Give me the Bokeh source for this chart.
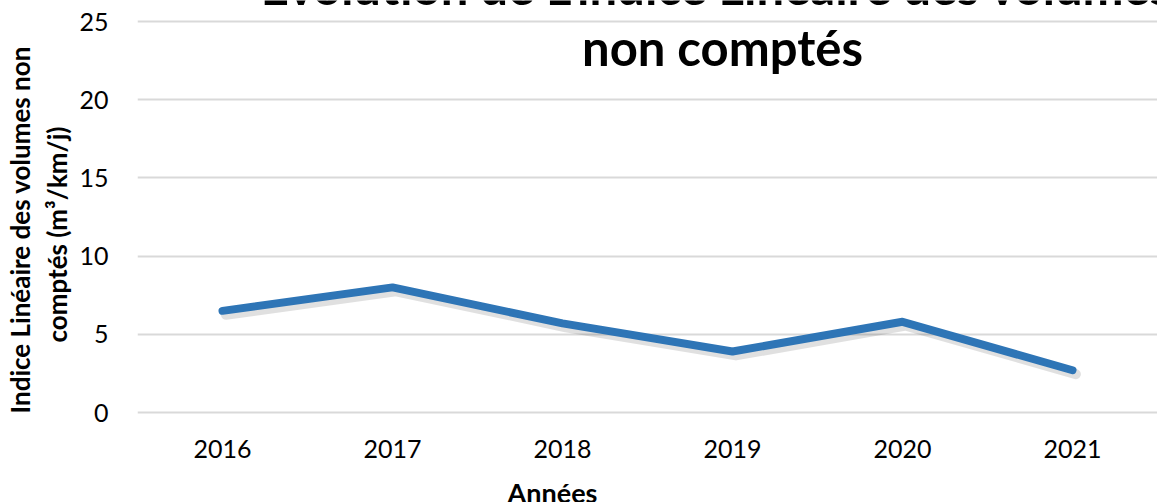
from bokeh.plotting import figure
from bokeh.models import ColumnDataSource, Label, FixedTicker, Title
from bokeh.transform import dodge
from bokeh.embed import file_html
from bokeh.resources import INLINE

years = ["2016", "2017", "2018", "2019", "2020", "2021"]
values = [6.5, 8.0, 5.7, 3.9, 5.8, 2.7]
y_ticks = [0, 5, 10, 15, 20, 25]
title_lines = ["Évolution de L'indice Linéaire  des volumes", "non comptés"]
y_title_lines = ["Indice Linéaire des volumes non", "comptés (m³/km/j)"]
x_title = "Années"

FONT = "Lato"
# value axis: 0..25 spans 391 px; the frame covers the full height (21 px above, 90 px below)
PX_PER_UNIT = 391 / 25
Y_START = -90 / PX_PER_UNIT
Y_END = 25 + 21 / PX_PER_UNIT

source = ColumnDataSource(data=dict(x=years, y=values))

p = figure(x_range=years, y_range=(Y_START, Y_END), width=1157, height=502,
           frame_width=1020, frame_height=502,
           min_border_left=137, min_border_right=0, min_border_top=0, min_border_bottom=0,
           output_backend="svg", toolbar_location=None)
p.outline_line_color = None
p.background_fill_color = "white"
p.border_fill_color = "white"

p.xgrid.grid_line_color = None
p.ygrid.grid_line_color = "#d9d9d9"
p.ygrid.grid_line_width = 2
p.yaxis.ticker = FixedTicker(ticks=y_ticks)
p.xaxis.fixed_location = 0

for ax in (p.xaxis[0], p.yaxis[0]):
    ax.axis_line_color = None
    ax.major_tick_line_color = None
    ax.minor_tick_line_color = None
    ax.major_tick_out = 0
    ax.major_tick_in = 0
    ax.major_label_text_font = FONT
    ax.major_label_text_font_size = "25px"
    ax.major_label_text_color = "#000000"
p.yaxis.major_label_standoff = 29
p.xaxis.major_label_standoff = 27

# shadow
p.line(x=dodge("x", 0.02, range=p.x_range), y=dodge("y", -0.25), source=source,
       line_color="#000000", line_alpha=0.12, line_width=10,
       line_cap="round", line_join="round")
p.line(x="x", y="y", source=source, line_color="#2E75B6", line_width=8,
       line_cap="round", line_join="round")

# title (two lines, first one partly cropped like in the reference)
p.add_layout(Label(x=585, y=517, x_units="screen", y_units="screen", text=title_lines[0],
                   text_font=FONT, text_font_style="bold", text_font_size="49px",
                   text_align="center", text_baseline="alphabetic", text_color="#000000"))
p.add_layout(Label(x=585, y=456, x_units="screen", y_units="screen", text=title_lines[1],
                   text_font=FONT, text_font_style="bold", text_font_size="49px",
                   text_align="center", text_baseline="alphabetic", text_color="#000000"))
# x title
p.add_layout(Label(x=552 - 137, y=10, x_units="screen", y_units="screen", text=x_title,
                   text_font=FONT, text_font_style="bold", text_font_size="27px",
                   text_align="center", text_baseline="alphabetic", text_color="#000000"))

# y title (two lines, nearest to the frame first)
p.add_layout(Title(text=y_title_lines[1], align="left", offset=160, text_font=FONT,
                   text_font_style="bold", text_font_size="26px", text_color="#000000",
                   standoff=7), "left")
p.add_layout(Title(text=y_title_lines[0], align="left", offset=89, text_font=FONT,
                   text_font_style="bold", text_font_size="26px", text_color="#000000",
                   standoff=0), "left")

open("out.html", "w").write(file_html(p, INLINE))
